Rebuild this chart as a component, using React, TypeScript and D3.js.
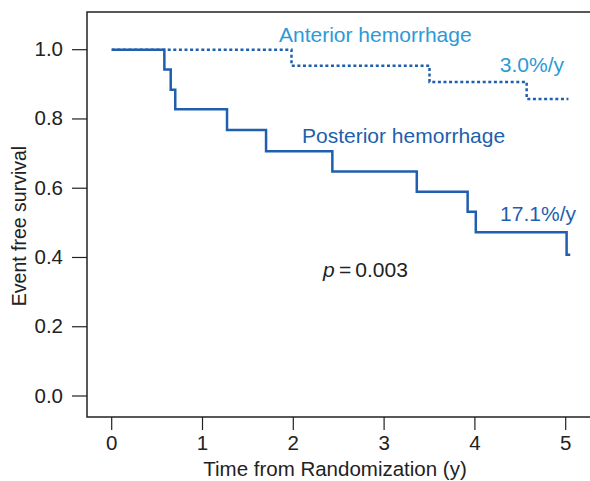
import React, { useEffect, useRef } from 'react';
import * as d3 from 'd3';

// step points: [time, survival] at each change
const posteriorTimes = [0, 0.58, 0.65, 0.7, 1.27, 1.7, 2.43, 3.36, 3.92, 4.01, 5.01, 5.05];
const posteriorSurv = [1.0, 0.943, 0.884, 0.828, 0.768, 0.707, 0.648, 0.59, 0.532, 0.473, 0.408, 0.408];
const anteriorTimes = [0, 1.98, 3.5, 4.57, 5.03];
const anteriorSurv = [1.0, 0.954, 0.907, 0.858, 0.858];
const xTicks = [0, 1, 2, 3, 4, 5];
const yTicks = [0, 0.2, 0.4, 0.6, 0.8, 1.0];

const lightBlue = '#2b9ad6';
const darkBlue = '#1e5fae';
const font = 'Liberation Sans, Arial, Helvetica, sans-serif';
const fs = 20.5;

const App: React.FC = () => {
  const svgRef = useRef<SVGSVGElement>(null);

  useEffect(() => {
    if (!svgRef.current) return;
    const svg = d3.select(svgRef.current);
    svg.selectAll('*').remove();

    const left = 87, top = 12, bottom = 417, right = 590;
    const x = d3.scaleLinear().domain([0, 5]).range([111.7, 565.7]);
    const y = d3.scaleLinear().domain([0, 1]).range([396, 49.7]);

    // frame (left, top, bottom)
    svg.append('path')
      .attr('d', `M${right},${top}H${left}V${bottom}H${right}`)
      .attr('fill', 'none')
      .attr('stroke', '#222')
      .attr('stroke-width', 1.5);

    // y ticks
    yTicks.forEach(t => {
      svg.append('line')
        .attr('x1', left - 15).attr('x2', left)
        .attr('y1', y(t)).attr('y2', y(t))
        .attr('stroke', '#222').attr('stroke-width', 1.2);
      svg.append('text')
        .attr('x', left - 24).attr('y', y(t) + 6.5)
        .attr('text-anchor', 'end')
        .attr('font-family', font).attr('font-size', fs)
        .attr('fill', '#222')
        .text(t.toFixed(1));
    });

    // x ticks
    xTicks.forEach(t => {
      svg.append('line')
        .attr('x1', x(t)).attr('x2', x(t))
        .attr('y1', bottom).attr('y2', bottom + 13)
        .attr('stroke', '#222').attr('stroke-width', 1.2);
      svg.append('text')
        .attr('x', x(t)).attr('y', bottom + 33)
        .attr('text-anchor', 'middle')
        .attr('font-family', font).attr('font-size', fs)
        .attr('fill', '#222')
        .text(String(t));
    });

    svg.append('text')
      .attr('x', 335).attr('y', 476)
      .attr('text-anchor', 'middle')
      .attr('font-family', font).attr('font-size', fs)
      .attr('fill', '#222')
      .text('Time from Randomization (y)');

    svg.append('text')
      .attr('transform', 'translate(26,226) rotate(-90)')
      .attr('text-anchor', 'middle')
      .attr('font-family', font).attr('font-size', 19.5)
      .attr('fill', '#222')
      .text('Event free survival');

    const line = d3.line<[number, number]>()
      .x(d => x(d[0]))
      .y(d => y(d[1]))
      .curve(d3.curveStepAfter);

    const ant: [number, number][] = anteriorTimes.map((t, i) => [t, anteriorSurv[i]]);
    const post: [number, number][] = posteriorTimes.map((t, i) => [t, posteriorSurv[i]]);

    svg.append('path')
      .datum(ant)
      .attr('fill', 'none')
      .attr('stroke', darkBlue)
      .attr('stroke-width', 2.5)
      .attr('stroke-dasharray', '3,2.6')
      .attr('d', line);

    svg.append('path')
      .datum(post)
      .attr('fill', 'none')
      .attr('stroke', darkBlue)
      .attr('stroke-width', 2.5)
      .attr('d', line);

    const label = (tx: number, ty: number, txt: string, color: string, anchor = 'start') =>
      svg.append('text')
        .attr('x', tx).attr('y', ty)
        .attr('text-anchor', anchor)
        .attr('font-family', font).attr('font-size', 21)
        .attr('fill', color)
        .text(txt);

    label(279, 42, 'Anterior hemorrhage', lightBlue);
    label(564, 72, '3.0%/y', lightBlue, 'end');
    label(302, 143, 'Posterior hemorrhage', darkBlue);
    label(576, 221, '17.1%/y', darkBlue, 'end');

    const p = svg.append('text')
      .attr('x', 323).attr('y', 277)
      .attr('font-family', font).attr('font-size', 21)
      .attr('fill', '#222');
    p.append('tspan').attr('font-style', 'italic').text('p');
    p.append('tspan').text('\u2009=\u20090.003');
  }, []);

  return (
    <svg ref={svgRef} width={590} height={481}
      style={{ position: 'absolute', left: 0, top: 0, background: '#fff' }} />
  );
};

export default App;
